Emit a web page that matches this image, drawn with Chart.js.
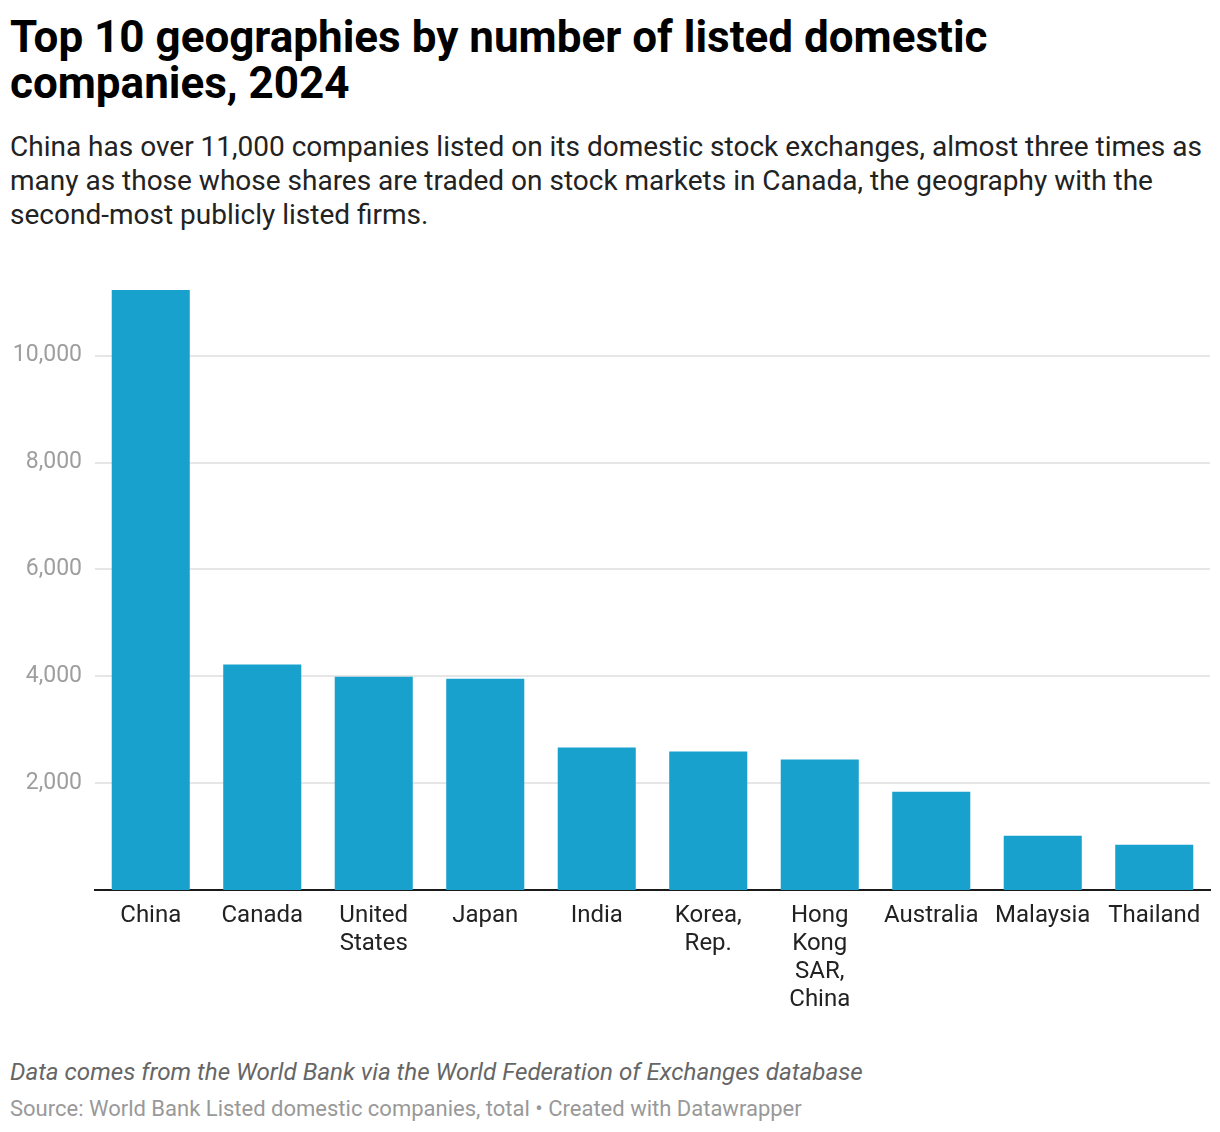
<!DOCTYPE html>
<html>
<head>
<meta charset="utf-8">
<script src="https://cdn.jsdelivr.net/npm/chart.js@4.4.1/dist/chart.umd.min.js"></script>
<style>
  body { margin: 0; background: #fff; font-family: Roboto, "Noto Sans", sans-serif; }
  #wrap { position: relative; width: 1220px; height: 1132px; }
  h1 { position: absolute; left: 10px; top: 14px; margin: 0; width: 1210px; white-space: nowrap;
       font-size: 44px; line-height: 46px; font-weight: 700; color: #000; }
  .sub { position: absolute; left: 10px; top: 130px; width: 1210px; white-space: nowrap;
         font-size: 28px; line-height: 34px; color: #222; }
  #box { position: absolute; left: 0; top: 250px; width: 1220px; height: 780px; }
  .note { position: absolute; left: 10px; top: 1058px; font-size: 24.2px; line-height: 28px; font-style: italic; color: #666; }
  .src { position: absolute; left: 10px; top: 1096px; font-size: 22px; line-height: 26px; color: #999; }
</style>
</head>
<body>
<div id="wrap">
  <h1>Top 10 geographies by number of listed domestic<br>companies, 2024</h1>
  <div class="sub">China has over 11,000 companies listed on its domestic stock exchanges, almost three times as<br>many as those whose shares are traded on stock markets in Canada, the geography with the<br>second-most publicly listed firms.</div>
  <div id="box"><canvas id="myChart"></canvas></div>
  <div class="note">Data comes from the World Bank via the World Federation of Exchanges database</div>
  <div class="src">Source: World Bank Listed domestic companies, total • Created with Datawrapper</div>
</div>

<script>
  // categories (multi-line labels as in the picture)
  const geographies = [
    'China', 'Canada', ['United', 'States'], 'Japan', 'India',
    ['Korea,', 'Rep.'], ['Hong', 'Kong', 'SAR,', 'China'], 'Australia', 'Malaysia', 'Thailand'
  ]
  // listed domestic companies, 2024
  const listedCompanies = [11230, 4220, 3990, 3955, 2665, 2590, 2440, 1840, 1015, 848]
  const yTicks = [2000, 4000, 6000, 8000, 10000]

  const data = {
    labels: geographies,
    datasets: [{
      data: listedCompanies,
      backgroundColor: '#19a1cd',
      barPercentage: 0.7,
      categoryPercentage: 1.0
    }]
  }

  const config = {
    type: 'bar',
    data: data,
    options: {
      responsive: true,
      maintainAspectRatio: false,
      animation: false,
      layout: { padding: { top: 40, right: 10, left: 0, bottom: 12 } },
      plugins: { legend: { display: false }, tooltip: { enabled: false } },
      scales: {
        x: {
          grid: { display: false },
          border: { display: true, color: '#1a1a1a', width: 2 },
          ticks: {
            color: '#222',
            font: { family: 'Roboto', size: 24, lineHeight: 1.167 },
            padding: 4,
            maxRotation: 0,
            autoSkip: false
          }
        },
        y: {
          min: 0,
          max: Math.max(...listedCompanies),
          afterBuildTicks: (axis) => { axis.ticks = yTicks.map(v => ({ value: v })) },
          afterFit: (axis) => { axis.width = 95 },
          border: { display: false },
          grid: { color: '#e6e6e6', lineWidth: 2, drawTicks: false },
          ticks: {
            color: '#9e9e9e',
            font: { family: 'Roboto', size: 23 },
            padding: 13,
            callback: (v) => v.toLocaleString('en-US')
          }
        }
      }
    }
  }

  const myChart = new Chart(document.getElementById('myChart'), config)
</script>
</body>
</html>
